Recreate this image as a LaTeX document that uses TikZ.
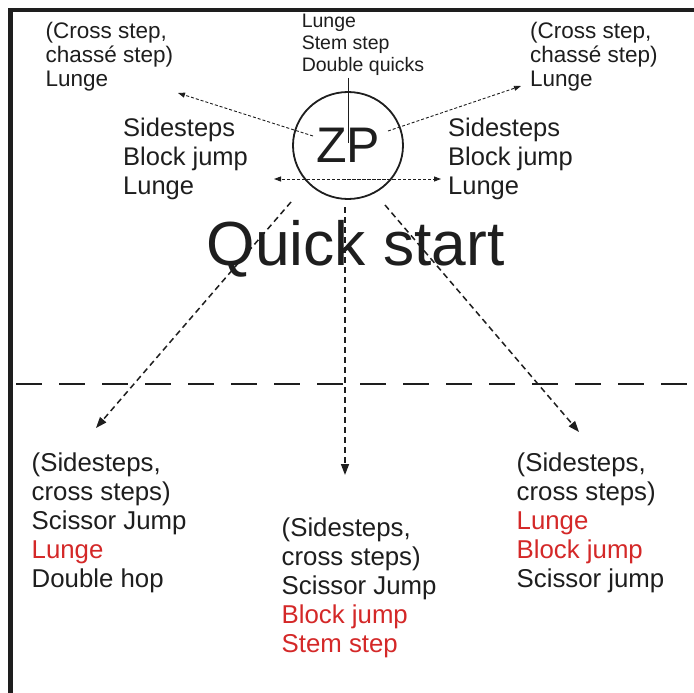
\documentclass[tikz,border=0pt]{standalone}
\usepackage{fontspec}
\setmainfont{Liberation Sans}
\usetikzlibrary{arrows.meta,shapes.geometric}
\definecolor{ink}{RGB}{30,30,30}
\definecolor{hot}{RGB}{212,40,40}
\newcommand{\fs}[2]{\fontsize{#1}{#2}\selectfont}
\newcommand{\lines}[1]{\begin{tabular}[t]{@{}l@{}}#1\end{tabular}}
\tikzset{
  txt/.style={anchor=base west, inner sep=0pt, text=ink},
  smalldash/.style={draw=ink, line width=0.9pt, dash pattern=on 3pt off 2pt,
    -{Triangle[length=7pt,width=5pt]}},
  bigdash/.style={draw=ink, line width=1.5pt, dash pattern=on 6pt off 4pt,
    -{Triangle[length=11pt,width=8pt]}},
}
\begin{document}
\begin{tikzpicture}[x=1pt,y=-1pt]
\useasboundingbox (0,0) rectangle (694,693);
\fill[white] (0,0) rectangle (694,693);

% frame: left and top edges
\draw[ink, line width=4.5pt, line join=miter] (10.5,700) -- (10.5,10) -- (700,10);

% field divider
\draw[ink, line width=2.8pt, dash pattern=on 26pt off 17pt] (16,384) -- (700,384);

% the zero point
\node[draw=ink, line width=1.8pt, ellipse, minimum width=110pt, minimum height=107pt,
      inner sep=0pt, text=ink, font=\fs{50}{50}] (zp) at (348,145.5) {ZP};

% texts
\node[txt, font=\fs{22.5}{24}] (tl) at (45.5,39) {\lines{(Cross step,\\chassé step)\\Lunge}};
\node[txt, font=\fs{22.5}{24}] (tr) at (530,39) {\lines{(Cross step,\\chassé step)\\Lunge}};
\node[txt, font=\fs{19.5}{22}] (tc) at (301.6,28) {\lines{Lunge\\Stem step\\Double quicks}};
\node[txt, font=\fs{25.5}{29}] (ml) at (123,136) {\lines{Sidesteps\\Block jump\\Lunge}};
\node[txt, font=\fs{25.5}{29}] (mr) at (448,136) {\lines{Sidesteps\\Block jump\\Lunge}};
\node[txt, font=\fs{62.3}{62}] (qs) at (206.5,265) {Quick start};
\node[txt, font=\fs{25.8}{29}] (bl) at (31.5,471.5)
  {\lines{(Sidesteps,\\cross steps)\\Scissor Jump\\\textcolor{hot}{Lunge}\\Double hop}};
\node[txt, font=\fs{25.8}{29}] (bm) at (281.5,536)
  {\lines{(Sidesteps,\\cross steps)\\Scissor Jump\\\textcolor{hot}{Block jump}\\\textcolor{hot}{Stem step}}};
\node[txt, font=\fs{25.8}{29}] (br) at (516.5,471.5)
  {\lines{(Sidesteps,\\cross steps)\\\textcolor{hot}{Lunge}\\\textcolor{hot}{Block jump}\\Scissor jump}};

% connector ends
\coordinate (vtop) at (348,78);
\coordinate (vbot) at (348,143);
\coordinate (ulA) at (313,136);
\coordinate (ulB) at (178,93);
\coordinate (urA) at (388,131);
\coordinate (urB) at (521,86);
\coordinate (hlA) at (395,179);
\coordinate (hlB) at (274,179);
\coordinate (hrA) at (343,179);
\coordinate (hrB) at (441,179);
\coordinate (dlA) at (291,202);
\coordinate (dlB) at (96,428);
\coordinate (dmA) at (345,207);
\coordinate (dmB) at (345,475);
\coordinate (drA) at (385,205);
\coordinate (drB) at (579,432);

% connectors
\draw[ink, line width=0.9pt] (vtop) -- (vbot);
\draw[smalldash] (ulA) -- (ulB);
\draw[smalldash] (urA) -- (urB);
\draw[smalldash] (hlA) -- (hlB);
\draw[smalldash] (hrA) -- (hrB);
\draw[bigdash] (dlA) -- (dlB);
\draw[bigdash] (dmA) -- (dmB);
\draw[bigdash] (drA) -- (drB);
\end{tikzpicture}
\end{document}
